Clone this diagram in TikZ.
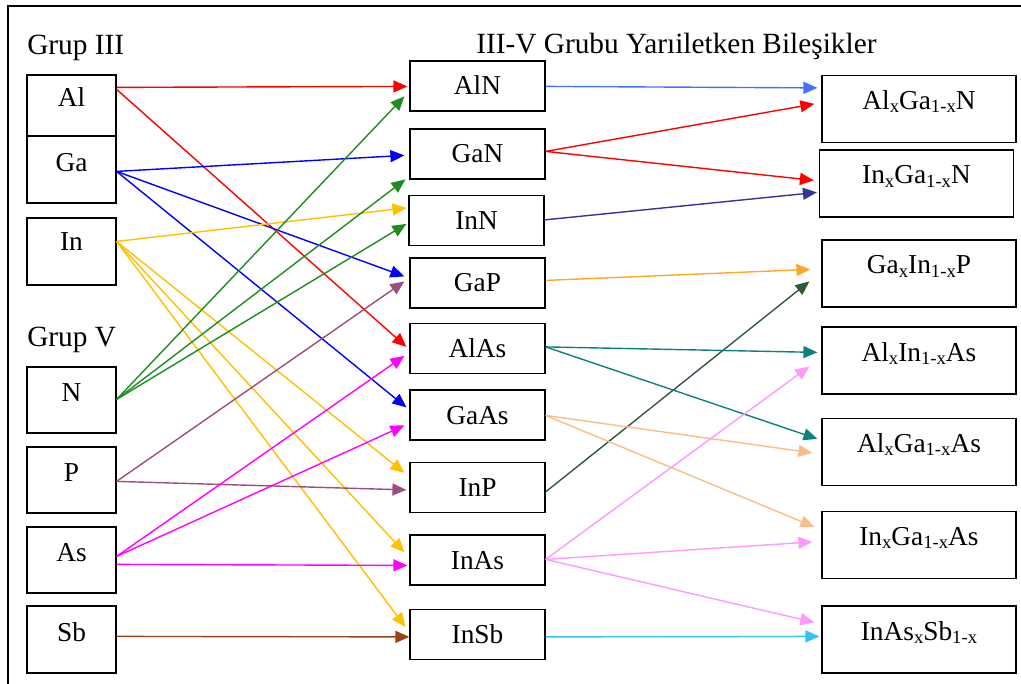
\documentclass[tikz,border=0pt]{standalone}
\usepackage{fontspec}
\setmainfont{Liberation Serif}
\usetikzlibrary{arrows.meta,calc}
\newcommand\sbx[1]{\raisebox{-2.5pt}{\fontsize{14}{14}\selectfont #1}}
\definecolor{cRed}{HTML}{FF0000}
\definecolor{cBlue}{HTML}{0000FF}
\definecolor{cGold}{HTML}{FFC000}
\definecolor{cGreen}{HTML}{1E8C1E}
\definecolor{cPurple}{HTML}{9B4F80}
\definecolor{cMag}{HTML}{FF00FF}
\definecolor{cBrown}{HTML}{9C4016}
\definecolor{cLBlue}{HTML}{4472FF}
\definecolor{cIndigo}{HTML}{333399}
\definecolor{cOrange}{HTML}{FFA826}
\definecolor{cDGreen}{HTML}{2F5A3A}
\definecolor{cTeal}{HTML}{0F8080}
\definecolor{cPeach}{HTML}{F8BE8A}
\definecolor{cPink}{HTML}{FF99FF}
\definecolor{cSky}{HTML}{33C3F5}
\begin{document}
\begin{tikzpicture}[x=0.75pt,y=-0.75pt,
  every node/.style={font=\fontsize{20.5}{24}\selectfont},
  bx/.style 2 args={draw, line width=0.9pt, inner sep=0pt, text height=#1, text depth=#2},
  lbox/.style={minimum width=66.75pt},
  mbox/.style={bx={25.5pt}{12pt}, minimum width=101.25pt},
  rbox/.style={bx={25.5pt}{24.75pt}, minimum width=145.5pt},
  hd/.style={font=\fontsize{22}{26}\selectfont, anchor=base west, inner sep=0pt},
  ar/.style={#1, line width=1.05pt, -{Triangle[length=10.5pt,width=9pt]}},
  frame/.style={line width=1.5pt}]
\useasboundingbox (0,0) rectangle (1021,684);
\draw[frame] (1021,6) -- (8,6) -- (8,684);

% headings
\node[hd] (g3) at (27,55) {Grup III};
\node[hd] (g5) at (27,346) {Grup V};
\node[hd] (title) at (476,54) {III-V Grubu Yarıiletken Bileşikler};

% left boxes
\node[bx={24pt}{21.75pt}, lbox] (Al) at (71.5,105.5) {Al};
\node[bx={27pt}{23.25pt}, lbox] (Ga) at (71.5,169.5) {Ga};
\node[bx={24.75pt}{25.5pt}, lbox] (In) at (71.5,251.5) {In};
\node[bx={25.5pt}{24pt}, lbox] (N) at (71.5,400) {N};
\node[bx={25.5pt}{24pt}, lbox] (P) at (71.5,480) {P};
\node[bx={25.5pt}{24pt}, lbox] (As) at (71.5,560) {As};
\node[bx={26.25pt}{24pt}, lbox] (Sb) at (71.5,639.5) {Sb};

% middle boxes
\node[mbox] (AlN) at (477.5,86) {AlN};
\node[mbox] (GaN) at (477.5,154) {GaN};
\node[mbox] (InN) at (476.5,220.5) {InN};
\node[mbox] (GaP) at (477.5,283) {GaP};
\node[mbox] (AlAs) at (477.5,348.5) {AlAs};
\node[mbox] (GaAs) at (477.5,415) {GaAs};
\node[mbox] (InP) at (477.5,487.5) {InP};
\node[mbox] (InAs) at (477.5,560) {InAs};
\node[mbox] (InSb) at (477.5,634.5) {InSb};

% right boxes
\node[rbox] (AGN) at (919,109) {Al\sbx{x}Ga\sbx{1-x}N};
\node[rbox] (IGN) at (916.5,183.5) {In\sbx{x}Ga\sbx{1-x}N};
\node[rbox] (GIP) at (919,273.5) {Ga\sbx{x}In\sbx{1-x}P};
\node[rbox] (AIA) at (919,360.5) {Al\sbx{x}In\sbx{1-x}As};
\node[rbox] (AGA) at (919,452) {Al\sbx{x}Ga\sbx{1-x}As};
\node[rbox] (IGA) at (919,545) {In\sbx{x}Ga\sbx{1-x}As};
\node[rbox] (IAS) at (919,639.5) {InAs\sbx{x}Sb\sbx{1-x}};

% left -> middle
\draw[ar=cRed] ($(Al.north east)+(0,13)$) -- ($(AlN.north west)+(-2,26)$);
\draw[ar=cRed] ($(Al.north east)+(0,15)$) -- ($(AlAs.north west)+(-3,24)$);
\draw[ar=cBlue] ($(Ga.north east)+(0,36)$) -- ($(GaN.north west)+(-5,27)$);
\draw[ar=cBlue] ($(Ga.north east)+(0,36)$) -- ($(GaP.north west)+(-5,19)$);
\draw[ar=cBlue] ($(Ga.north east)+(0,36)$) -- ($(GaAs.north west)+(-3,18)$);
\draw[ar=cGold] ($(In.north east)+(0,24)$) -- ($(InN.north west)+(-2,13)$);
\draw[ar=cGold] ($(In.north east)+(0,24)$) -- ($(InP.north west)+(-5,11)$);
\draw[ar=cGold] ($(In.north east)+(0,24)$) -- ($(InAs.north west)+(-5,18)$);
\draw[ar=cGold] ($(In.north east)+(0,24)$) -- ($(InSb.north west)+(-4,18)$);
\draw[ar=cGreen] ($(N.north east)+(0,33)$) -- ($(AlN.north west)+(-5,36)$);
\draw[ar=cGreen] ($(N.north east)+(0,33)$) -- ($(GaN.north west)+(-4,51)$);
\draw[ar=cGreen] ($(N.north east)+(0,33)$) -- ($(InN.north west)+(-2,29)$);
\draw[ar=cPurple] ($(P.north east)+(0,35)$) -- ($(GaP.north west)+(-5,24)$);
\draw[ar=cPurple] ($(P.north east)+(0,35)$) -- ($(InP.north west)+(-3,28)$);
\draw[ar=cMag] ($(As.north east)+(0,30)$) -- ($(AlAs.north west)+(-5,33)$);
\draw[ar=cMag] ($(As.north east)+(0,30)$) -- ($(GaAs.north west)+(-5,36)$);
\draw[ar=cMag] ($(As.north east)+(0,38)$) -- ($(InAs.north west)+(-2,31)$);
\draw[ar=cBrown] ($(Sb.north east)+(0,31)$) -- ($(InSb.north west)+(0,28)$);

% middle -> right
\draw[ar=cLBlue] ($(AlN.north east)+(0,26)$) -- ($(AGN.north west)+(-4,13)$);
\draw[ar=cRed] ($(GaN.north east)+(0,23)$) -- ($(AGN.north west)+(-7,29)$);
\draw[ar=cRed] ($(GaN.north east)+(0,23)$) -- ($(IGN.north west)+(-5,31)$);
\draw[ar=cIndigo] ($(InN.north east)+(0,25)$) -- ($(IGN.north west)+(-2,43)$);
\draw[ar=cOrange] ($(GaP.north east)+(0,23)$) -- ($(GIP.north west)+(-11,30)$);
\draw[ar=cDGreen] ($(InP.north east)+(0,30)$) -- ($(GIP.north west)+(-12,42)$);
\draw[ar=cTeal] ($(AlAs.north east)+(0,24)$) -- ($(AIA.north west)+(-4,26)$);
\draw[ar=cTeal] ($(AlAs.north east)+(0,24)$) -- ($(AGA.north west)+(-4,21)$);
\draw[ar=cPeach] ($(GaAs.north east)+(0,26)$) -- ($(AGA.north west)+(-9,35)$);
\draw[ar=cPeach] ($(GaAs.north east)+(0,26)$) -- ($(IGA.north west)+(-7,16)$);
\draw[ar=cPink] ($(InAs.north east)+(0,25)$) -- ($(AIA.north west)+(-12,40)$);
\draw[ar=cPink] ($(InAs.north east)+(0,25)$) -- ($(IGA.north west)+(-9,31)$);
\draw[ar=cPink] ($(InAs.north east)+(0,25)$) -- ($(IAS.north west)+(-7,17)$);
\draw[ar=cSky] ($(InSb.north east)+(0,28)$) -- ($(IAS.north west)+(-2,31)$);
\end{tikzpicture}
\end{document}
